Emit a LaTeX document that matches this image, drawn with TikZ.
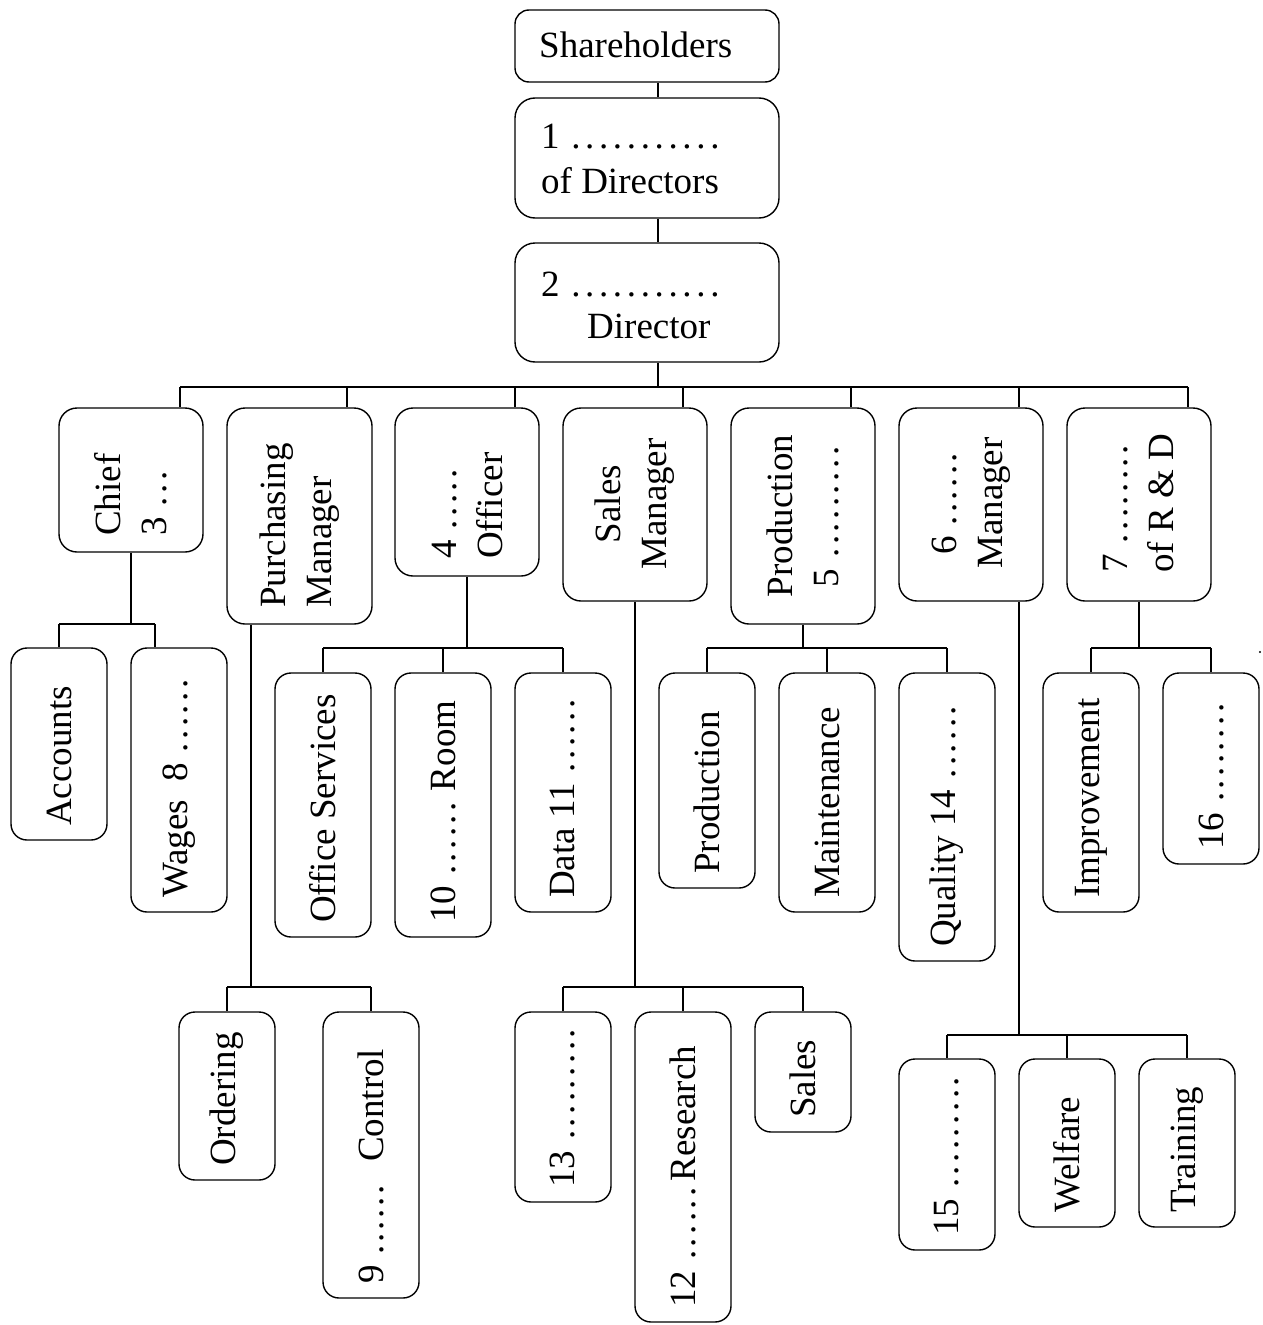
\documentclass[tikz,border=0pt]{standalone}
\usepackage{fontspec}
\setmainfont{Liberation Serif}
\newcommand{\dd}{\makebox[12.7pt]{.}}
\newcommand{\dt}{\makebox[13.9pt]{.}}
\newcommand{\obox}[6][16pt]{\node[obox, rounded corners=#1, minimum width={(#5-#3)*1pt}, minimum height={(#6-#4)*1pt}] (#2) at ({(#3+#5)/2},{(#4+#6)/2}) {};}
\tikzset{
  obox/.style={draw, line width=1.4pt, rectangle, inner sep=0pt},
  txt/.style={inner sep=0pt, font=\fontsize{37}{46}\selectfont},
  vt/.style={txt, rotate=90},
  ln/.style={line width=1.4pt}
}
\begin{document}
\begin{tikzpicture}[x=1pt, y=-1pt]
\useasboundingbox (0,0) rectangle (1263,1325);
% top boxes
\obox[14pt]{sh}{515}{10}{779}{82}
\obox[20pt]{b1}{515}{98}{779}{218}
\obox[20pt]{b2}{515}{243}{779}{362}
\node[txt, anchor=base west] (tsh) at (539,57) {Shareholders};
\node[txt, anchor=base west] (tb1a) at (541,148) {1 \dt\dt\dt\dt\dt\dt\dt\dt\dt\dt\dt};
\node[txt, anchor=base west] (tb1b) at (541,193) {of Directors};
\node[txt, anchor=base west] (tb2a) at (541,296) {2 \dt\dt\dt\dt\dt\dt\dt\dt\dt\dt\dt};
\node[txt, anchor=base west] (tb2b) at (587,338) {Director};
% level 2
\obox[18pt]{chief}{59}{408}{203}{552}
\obox[18pt]{purch}{227}{408}{372}{624}
\obox[18pt]{off4}{395}{408}{539}{576}
\obox[18pt]{salesm}{563}{408}{707}{601}
\obox[18pt]{prod5}{731}{408}{875}{624}
\obox[18pt]{mgr6}{899}{408}{1043}{601}
\obox[18pt]{rd7}{1067}{408}{1211}{601}
\node[vt, anchor=west, align=left] (tchief) at (131,536) {Chief\\3 \dd\dd\dd};
\node[vt, anchor=west, align=left] (tpurch) at (300,608) {Purchasing\\Manager};
\node[vt, anchor=west, align=left] (toff4) at (467,559) {4 \dd\dd\dd\dd\dd\\Officer};
\node[vt, align=center] (tsalesm) at (635,504) {Sales\\Manager};
\node[vt, align=center] (tprod5) at (803,516) {Production\\5 \dd\dd\dd\dd\dd\dd\dd\dd\dd};
\node[vt, align=center] (tmgr6) at (971,503) {6 \dd\dd\dd\dd\dd\dd\\Manager};
\node[vt, anchor=west, align=left] (trd7) at (1139,573) {7 \dd\dd\dd\dd\dd\dd\dd\dd\\of R \& D};
% level 3 (upper)
\obox{acc}{11}{648}{107}{840}
\obox{wages}{131}{648}{227}{912}
\obox{offsv}{275}{673}{371}{937}
\obox{room10}{395}{673}{491}{937}
\obox{data11}{515}{673}{611}{912}
\obox{prodc}{659}{673}{755}{888}
\obox{maint}{779}{673}{875}{912}
\obox{qual14}{899}{673}{995}{961}
\obox{impr}{1043}{673}{1139}{912}
\obox{d16}{1163}{673}{1259}{864}
\node[vt, anchor=west] (tacc) at (59,826) {Accounts};
\node[vt, anchor=west] (twages) at (179,898) {Wages\ \ 8 \dd\dd\dd\dd\dd\dd};
\node[vt, anchor=west] (toffsv) at (323,923) {Office Services};
\node[vt, anchor=west] (troom10) at (443,923) {10 \dd\dd\dd\dd\dd\dd\ Room};
\node[vt, anchor=west] (tdata11) at (563,898) {Data 11 \dd\dd\dd\dd\dd\dd};
\node[vt, anchor=west] (tprodc) at (707,874) {Production};
\node[vt, anchor=west] (tmaint) at (827,898) {Maintenance};
\node[vt, anchor=west] (tqual14) at (947,947) {Quality 14 \dd\dd\dd\dd\dd\dd};
\node[vt, anchor=west] (timpr) at (1091,898) {Improvement};
\node[vt, anchor=west] (td16) at (1211,850) {16 \dd\dd\dd\dd\dd\dd\dd\dd};
% level 3 (lower)
\obox{order}{179}{1012}{275}{1180}
\obox{ctrl9}{323}{1012}{419}{1298}
\obox{d13}{515}{1012}{611}{1202}
\obox{res12}{635}{1012}{731}{1322}
\obox{sales}{755}{1012}{851}{1132}
\obox{d15}{899}{1059}{995}{1250}
\obox{welf}{1019}{1059}{1115}{1227}
\obox{train}{1139}{1059}{1235}{1227}
\node[vt, anchor=west] (torder) at (227,1166) {Ordering};
\node[vt, anchor=west] (tctrl9) at (371,1284) {9 \makebox[12pt]{.}\makebox[12pt]{.}\makebox[12pt]{.}\makebox[12pt]{.}\makebox[12pt]{.}\makebox[12pt]{.}\hspace{13pt} Control};
\node[vt, anchor=west] (td13) at (563,1188) {13 \dd\dd\dd\dd\dd\dd\dd\dd\dd};
\node[vt, anchor=west] (tres12) at (683,1308) {12 \dd\dd\dd\dd\dd\dd\hspace{4pt}Research};
\node[vt, anchor=west] (tsales) at (803,1118) {Sales};
\node[vt, anchor=west] (td15) at (947,1236) {15 \dd\dd\dd\dd\dd\dd\dd\dd\dd};
\node[vt, anchor=west] (twelf) at (1067,1213) {Welfare};
\node[vt, anchor=west] (ttrain) at (1187,1213) {Training};
\node[circle, fill, inner sep=0pt, minimum size=2.2pt] (stray) at (1260,652) {};
% connectors top
\draw[ln] ([xshift=11pt]sh.south) -- ([xshift=11pt]b1.north);
\draw[ln] ([xshift=11pt]b1.south) -- ([xshift=11pt]b2.north);
\coordinate (j1) at (180,387);
\coordinate (j2) at (347,387);
\coordinate (j3) at (515,387);
\coordinate (j4) at (683,387);
\coordinate (j5) at (851,387);
\coordinate (j6) at (1019,387);
\coordinate (j7) at (1188,387);
\draw[ln] ([xshift=11pt]b2.south) -- ([xshift=11pt]b2.south |- j1);
\draw[ln] (j1) -- (j7);
\draw[ln] (j1) -- (j1 |- chief.north);
\draw[ln] (j2) -- (j2 |- purch.north);
\draw[ln] (j3) -- (j3 |- off4.north);
\draw[ln] (j4) -- (j4 |- salesm.north);
\draw[ln] (j5) -- (j5 |- prod5.north);
\draw[ln] (j6) -- (j6 |- mgr6.north);
\draw[ln] (j7) -- (j7 |- rd7.north);
% chief children
\coordinate (c1) at (59,624);
\coordinate (c2) at (155,624);
\draw[ln] (chief.south) -- (chief.south |- c1);
\draw[ln] (c1) -- (c2);
\draw[ln] (c1) -- (c1 |- acc.north);
\draw[ln] (c2) -- (c2 |- wages.north);
% purchasing children
\coordinate (p0) at (251,987);
\coordinate (p1) at (227,987);
\coordinate (p2) at (371,987);
\draw[ln] (p0 |- purch.south) -- (p0);
\draw[ln] (p1) -- (p2);
\draw[ln] (p1) -- (p1 |- order.north);
\draw[ln] (p2) -- (p2 |- ctrl9.north);
% officer children
\coordinate (o1) at (323,648);
\coordinate (o2) at (443,648);
\coordinate (o3) at (563,648);
\draw[ln] (off4.south) -- (off4.south |- o1);
\draw[ln] (o1) -- (o3);
\draw[ln] (o1) -- (o1 |- offsv.north);
\draw[ln] (o2) -- (o2 |- room10.north);
\draw[ln] (o3) -- (o3 |- data11.north);
% sales manager children
\coordinate (s1) at (563,987);
\coordinate (s2) at (683,987);
\coordinate (s3) at (803,987);
\draw[ln] (salesm.south) -- (salesm.south |- s1);
\draw[ln] (s1) -- (s3);
\draw[ln] (s1) -- (s1 |- d13.north);
\draw[ln] (s2) -- (s2 |- res12.north);
\draw[ln] (s3) -- (s3 |- sales.north);
% production children
\coordinate (r1) at (707,648);
\coordinate (r2) at (827,648);
\coordinate (r3) at (947,648);
\draw[ln] (prod5.south) -- (prod5.south |- r1);
\draw[ln] (r1) -- (r3);
\draw[ln] (r1) -- (r1 |- prodc.north);
\draw[ln] (r2) -- (r2 |- maint.north);
\draw[ln] (r3) -- (r3 |- qual14.north);
% manager 6 children
\coordinate (m0) at (1019,1035);
\coordinate (m1) at (947,1035);
\coordinate (m2) at (1067,1035);
\coordinate (m3) at (1187,1035);
\draw[ln] (m0 |- mgr6.south) -- (m0);
\draw[ln] (m1) -- (m3);
\draw[ln] (m1) -- (m1 |- d15.north);
\draw[ln] (m2) -- (m2 |- welf.north);
\draw[ln] (m3) -- (m3 |- train.north);
% R&D children
\coordinate (d1) at (1091,648);
\coordinate (d2) at (1211,648);
\draw[ln] (rd7.south) -- (rd7.south |- d1);
\draw[ln] (d1) -- (d2);
\draw[ln] (d1) -- (d1 |- impr.north);
\draw[ln] (d2) -- (d2 |- d16.north);
\end{tikzpicture}
\end{document}
